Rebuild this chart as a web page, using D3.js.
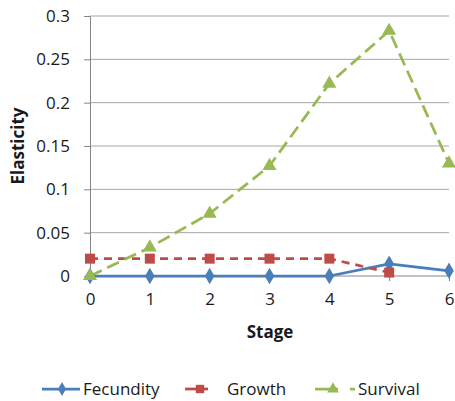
<!DOCTYPE html>
<html><head><meta charset="utf-8">
<script src="https://cdn.jsdelivr.net/npm/d3@7"></script>
<style>body{margin:0;background:#fff}svg{display:block}text{font-family:"Open Sans",sans-serif;fill:#1a1a1a}</style>
</head><body><svg id="c" width="455" height="401"></svg>
<script>
const stages = [0, 1, 2, 3, 4, 5, 6];
const fecundity = [0, 0, 0, 0, 0, 0.014, 0.006];
const growth = [0.02, 0.02, 0.02, 0.02, 0.02, 0.004, null];
const survival = [0, 0.033, 0.072, 0.127, 0.222, 0.283, 0.130];
const yTicks = [0, 0.05, 0.1, 0.15, 0.2, 0.25, 0.3];
const seriesNames = ["Fecundity", "Growth", "Survival"];

const svg = d3.select("#c");
const x = d3.scalePoint().domain(stages).range([90, 449]);
const y = d3.scaleLinear().domain([0, 0.3]).range([276, 16]);

const series = [
  {name: seriesNames[0], values: fecundity, color: "#4A7EBB", dash: null, marker: d3.symbolDiamond, size: 80,
   leg: {x1: 42, x2: 80, mx: 62, dash: null, tx: 83}},
  {name: seriesNames[1], values: growth, color: "#BE4B48", dash: "8,6", marker: d3.symbolSquare, size: 100,
   leg: {x1: 185, x2: 208, mx: 200, dash: null, tx: 227}},
  {name: seriesNames[2], values: survival, color: "#98B954", dash: "13,6", marker: d3.symbolTriangle, size: 85,
   leg: {x1: 315, x2: 355, mx: 333, dash: "23,12,6", tx: 358}}
];

// gridlines
svg.append("g").selectAll("line").data(yTicks.filter(d => d > 0)).join("line")
  .attr("x1", 90).attr("x2", 449).attr("y1", d => y(d)).attr("y2", d => y(d))
  .attr("stroke", "#a6a6a6").attr("stroke-width", 1);

// y axis
const yAxis = svg.append("g").attr("transform", "translate(90,0)")
  .call(d3.axisLeft(y).tickValues(yTicks).tickSize(6).tickPadding(14).tickFormat(d => String(d)));
yAxis.select(".domain").attr("stroke", "#868686");
yAxis.selectAll(".tick line").attr("stroke", "#868686");
yAxis.selectAll("text").style("font-size", "17px").style("font-family", "Open Sans").attr("fill", "#1a1a1a");

// x axis
const xAxis = svg.append("g").attr("transform", "translate(0,276)")
  .call(d3.axisBottom(x).tickSize(5).tickSizeOuter(0).tickPadding(12));
xAxis.select(".domain").attr("stroke", "#868686").attr("d", "M90,0H449");
xAxis.selectAll(".tick line").attr("stroke", "#868686");
xAxis.selectAll("text").style("font-size", "17px").style("font-family", "Open Sans").attr("fill", "#1a1a1a");

// axis titles
svg.append("text").attr("transform", "translate(24,146) rotate(-90)").attr("text-anchor", "middle")
  .style("font-size", "17px").style("font-weight", "bold").text("Elasticity");
svg.append("text").attr("x", 270).attr("y", 338).attr("text-anchor", "middle")
  .style("font-size", "17px").style("font-weight", "bold").text("Stage");

// lines & markers
series.forEach(s => {
  const pts = stages.map((st, i) => ({st, v: s.values[i]}));
  const line = d3.line().defined(d => d.v !== null).x(d => x(d.st)).y(d => y(d.v));
  svg.append("path").datum(pts).attr("d", line).attr("fill", "none")
    .attr("stroke", s.color).attr("stroke-width", 2.75)
    .attr("stroke-dasharray", s.dash).attr("stroke-linejoin", "round");
});
series.forEach(s => {
  const pts = stages.map((st, i) => ({st, v: s.values[i]})).filter(d => d.v !== null);
  svg.append("g").selectAll("path").data(pts).join("path")
    .attr("d", d3.symbol().type(s.marker).size(s.size))
    .attr("transform", d => `translate(${x(d.st)},${y(d.v)})`)
    .attr("fill", s.color);
});

// legend
const legY = 389;
series.forEach(s => {
  const g = svg.append("g");
  g.append("line").attr("x1", s.leg.x1).attr("x2", s.leg.x2).attr("y1", legY).attr("y2", legY)
    .attr("stroke", s.color).attr("stroke-width", 2.75).attr("stroke-dasharray", s.leg.dash);
  g.append("path").attr("d", d3.symbol().type(s.marker).size(s.size * 0.7))
    .attr("transform", `translate(${s.leg.mx},${legY})`).attr("fill", s.color);
  g.append("text").attr("x", s.leg.tx).attr("y", legY).attr("dy", "0.35em")
    .style("font-size", "17px").text(s.name);
});
</script></body></html>
